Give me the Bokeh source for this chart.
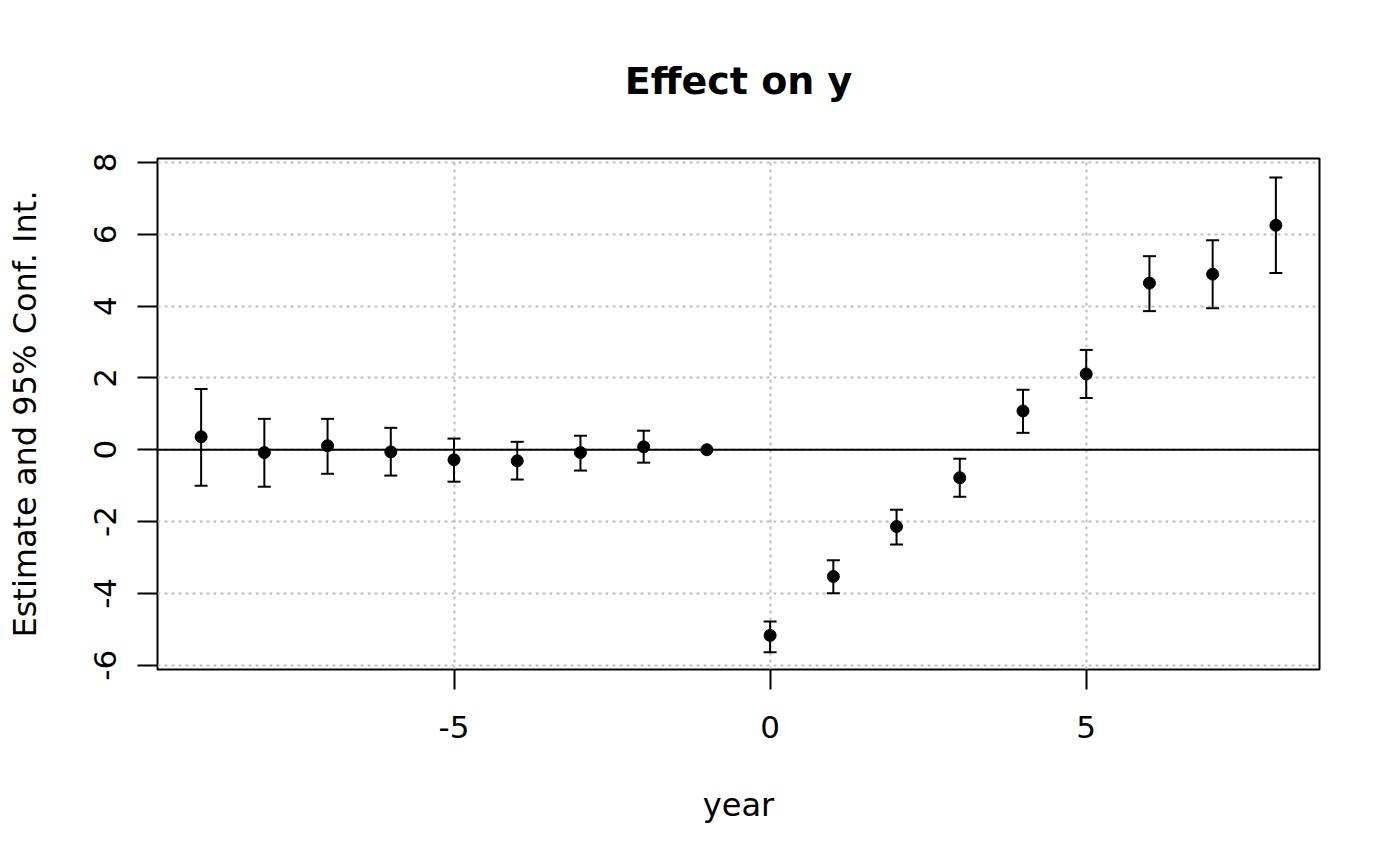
from bokeh.plotting import figure
from bokeh.models import Range1d, FixedTicker, Whisker, TeeHead, Span, ColumnDataSource, CustomJSTickFormatter
from bokeh.embed import file_html
from bokeh.resources import INLINE

years = [-9, -8, -7, -6, -5, -4, -3, -2, -1, 0, 1, 2, 3, 4, 5, 6, 7, 8]
estimate = [0.36, -0.08, 0.11, -0.06, -0.28, -0.31, -0.08, 0.08, 0.0,
            -5.17, -3.53, -2.14, -0.78, 1.08, 2.11, 4.64, 4.89, 6.25]
ci_low = [-1.00, -1.03, -0.67, -0.72, -0.89, -0.83, -0.58, -0.36, None,
          -5.64, -4.00, -2.64, -1.31, 0.47, 1.44, 3.86, 3.94, 4.92]
ci_high = [1.69, 0.86, 0.86, 0.61, 0.31, 0.22, 0.39, 0.53, None,
           -4.78, -3.08, -1.67, -0.25, 1.67, 2.78, 5.39, 5.83, 7.58]
x_ticks = [-5, 0, 5]
y_ticks = [-6, -4, -2, 0, 2, 4, 6, 8]

FONT = "DejaVu Sans"

p = figure(width=1384, height=850, output_backend="svg", toolbar_location=None,
           x_range=Range1d(-9.69, 8.69), y_range=Range1d(-6.12, 8.11),
           min_border_left=157, min_border_right=65, min_border_top=157,
           min_border_bottom=181, title="Effect on y")

p.title.text_font = FONT
p.title.text_font_size = "38px"
p.title.text_font_style = "bold"
p.title.align = "center"
p.title.text_color = "black"
p.title.standoff = 112

p.outline_line_color = "black"
p.outline_line_width = 2
p.background_fill_color = "white"
p.border_fill_color = "white"

fmt = CustomJSTickFormatter(code="return String(tick);")
for ax in (p.xaxis, p.yaxis):
    ax.axis_line_color = None
    ax.major_tick_out = 20
    ax.major_tick_in = 0
    ax.major_tick_line_width = 2
    ax.major_tick_line_color = "black"
    ax.minor_tick_line_color = None
    ax.major_label_text_font = FONT
    ax.major_label_text_font_size = "31px"
    ax.major_label_text_color = "black"
    ax.axis_label_text_font = FONT
    ax.axis_label_text_font_size = "32px"
    ax.axis_label_text_font_style = "normal"
    ax.axis_label_text_color = "black"
    ax.formatter = fmt

p.xaxis.ticker = FixedTicker(ticks=x_ticks)
p.yaxis.ticker = FixedTicker(ticks=y_ticks)
p.yaxis.major_label_orientation = "vertical"
p.xaxis.axis_label = "year"
p.yaxis.axis_label = "Estimate and 95% Conf. Int."
p.xaxis.major_label_standoff = 26
p.yaxis.major_label_standoff = 21
p.xaxis.axis_label_standoff = 45
p.yaxis.axis_label_standoff = 48

for g in (p.xgrid, p.ygrid):
    g.grid_line_color = "#bebebe"
    g.grid_line_dash = "3 4"
    g.grid_line_width = 2

p.add_layout(Span(location=0, dimension="width", line_color="black", line_width=2))

wx, wl, wh = [], [], []
for x, lo, hi in zip(years, ci_low, ci_high):
    if lo is not None:
        wx.append(x); wl.append(lo); wh.append(hi)
wsrc = ColumnDataSource(dict(x=wx, lower=wl, upper=wh))
w = Whisker(source=wsrc, base="x", lower="lower", upper="upper", dimension="height",
            line_color="black", line_width=2,
            upper_head=TeeHead(size=13, line_color="black", line_width=2),
            lower_head=TeeHead(size=13, line_color="black", line_width=2))
p.add_layout(w)

p.scatter(years, estimate, size=12, color="black")

open("out.html", "w").write(file_html(p, INLINE))
